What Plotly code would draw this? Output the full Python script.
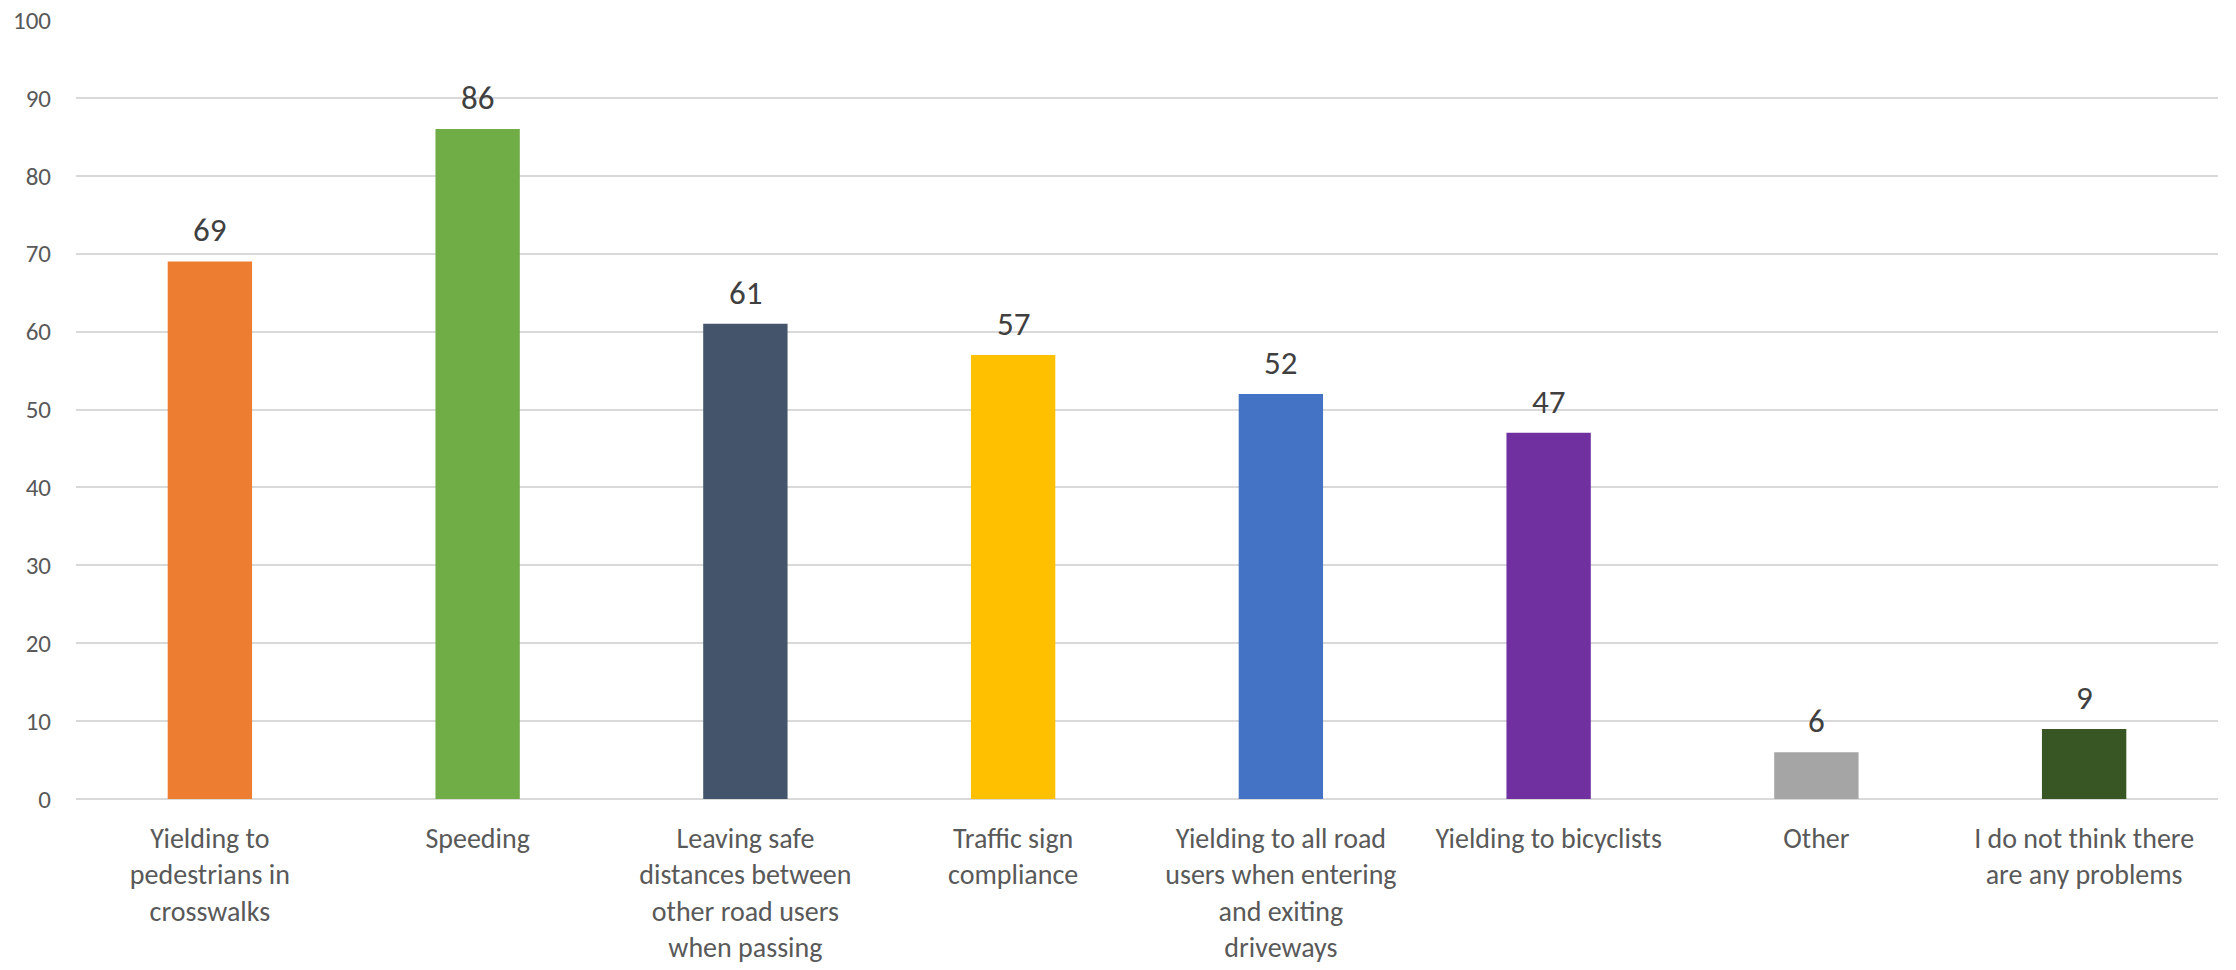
import plotly.graph_objects as go

categories = [
    "Yielding to<br>pedestrians in<br>crosswalks",
    "Speeding",
    "Leaving safe<br>distances between<br>other road users<br>when passing",
    "Traffic sign<br>compliance",
    "Yielding to all road<br>users when entering<br>and exiting<br>driveways",
    "Yielding to bicyclists",
    "Other",
    "I do not think there<br>are any problems",
]
values = [69, 86, 61, 57, 52, 47, 6, 9]
colors = ["#ED7D31", "#70AD47", "#44546A", "#FFC000", "#4472C4", "#7030A0", "#A5A5A5", "#375623"]
y_ticks = [0, 10, 20, 30, 40, 50, 60, 70, 80, 90, 100]

FONT = "Carlito, Calibri, Lato, 'Noto Sans', sans-serif"

fig = go.Figure()
fig.add_trace(go.Bar(
    x=categories, y=values, marker=dict(color=colors, line=dict(width=0)),
    showlegend=False, hoverinfo="skip",
))
for c, v in zip(categories, values):
    fig.add_annotation(x=c, y=v, text=str(v), showarrow=False, yanchor="bottom",
                       yshift=9, font=dict(family=FONT, size=33, color="#404040"))

fig.update_layout(
    width=2228, height=962,
    margin=dict(l=68, r=18, t=12, b=171),
    paper_bgcolor="white", plot_bgcolor="white",
    bargap=0.685,
    font=dict(family=FONT, color="#595959"),
)
fig.update_xaxes(
    tickfont=dict(family=FONT, size=28, color="#595959"),
    showgrid=False, ticks="", showline=False, ticklabelstandoff=20,
    automargin=False,
)
fig.update_yaxes(
    range=[0, 100], tickvals=y_ticks, ticktext=[str(t) for t in y_ticks],
    showgrid=True, gridcolor="#D9D9D9", gridwidth=1.5,
    zeroline=True, zerolinecolor="#D9D9D9", zerolinewidth=1.5,
    tickfont=dict(family=FONT, size=25, color="#595959"),
    ticks="", ticklabelstandoff=24, automargin=False,
    ticklabeloverflow="allow",
)
fig.write_html("out.html")
